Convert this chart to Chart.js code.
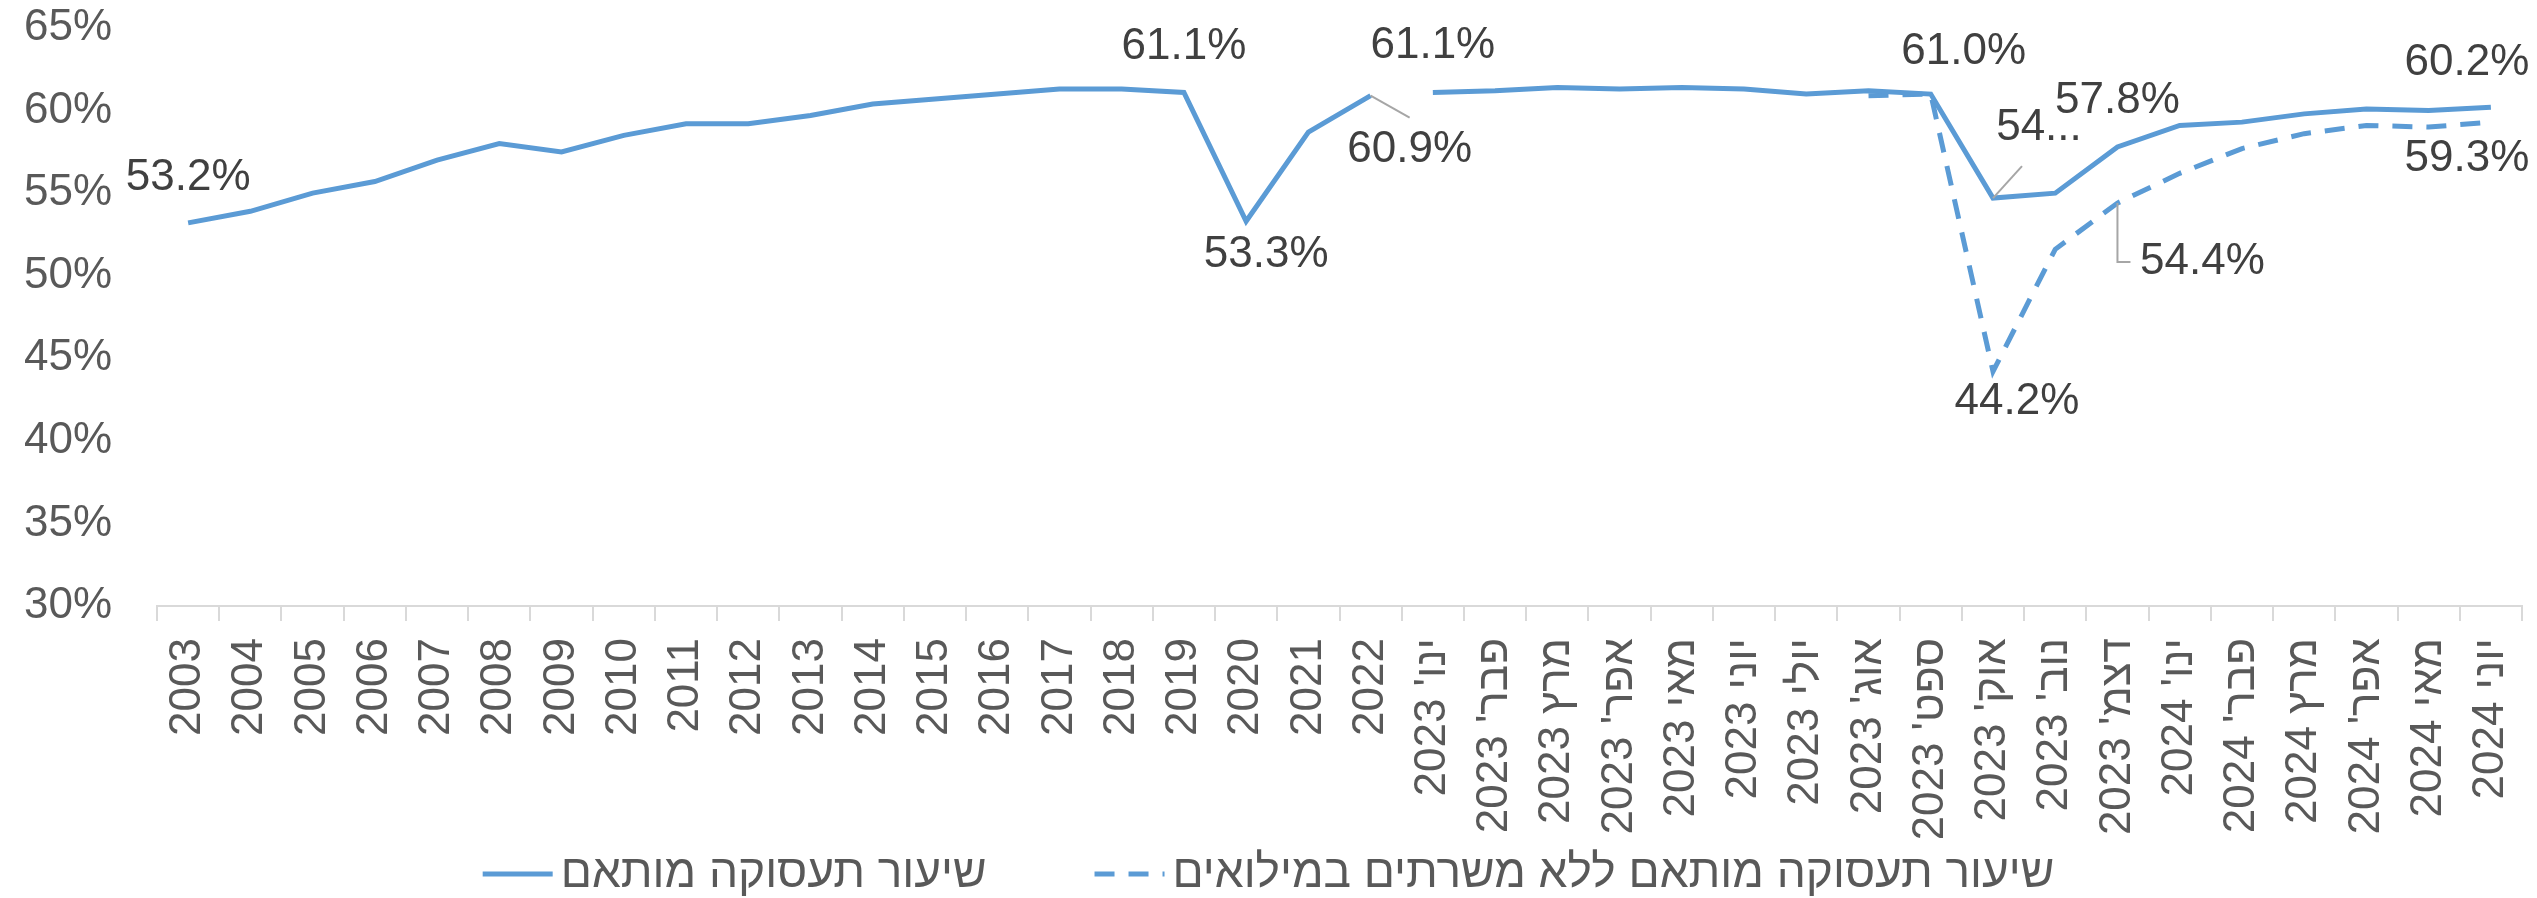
<!DOCTYPE html>
<html lang="he">
<head>
<meta charset="utf-8">
<title>שיעור תעסוקה מותאם</title>
<script src="https://cdn.jsdelivr.net/npm/chart.js@4.4.1/dist/chart.umd.min.js"></script>
<style>
  html, body { margin: 0; padding: 0; background: #fff; }
  #wrap { width: 2537px; height: 898px; position: relative; }
</style>
</head>
<body>
<div id="wrap"><canvas id="chart"></canvas></div>
<script>
// categories: yearly points, then monthly points
const years = ["2003", "2004", "2005", "2006", "2007", "2008", "2009", "2010", "2011", "2012",
  "2013", "2014", "2015", "2016", "2017", "2018", "2019", "2020", "2021", "2022"]
const months = ["ינו' 2023", "פבר' 2023", "מרץ 2023", "אפר' 2023", "מאי 2023", "יוני 2023",
  "יולי 2023", "אוג' 2023", "ספט' 2023", "אוק' 2023", "נוב' 2023", "דצמ' 2023",
  "ינו' 2024", "פבר' 2024", "מרץ 2024", "אפר' 2024", "מאי 2024", "יוני 2024"]

// adjusted employment rate, %
const annualRate = [53.2, 53.9, 55.0, 55.7, 57.0, 58.0, 57.5, 58.5, 59.2, 59.2,
  59.7, 60.4, 60.7, 61.0, 61.3, 61.3, 61.1, 53.3, 58.7, 60.9]
const monthlyRate = [61.1, 61.2, 61.4, 61.3, 61.4, 61.3, 61.0, 61.2, 61.0, 54.7, 55.0, 57.8,
  59.1, 59.3, 59.8, 60.1, 60.0, 60.2]
// without reservists, from Aug 2023
const noReservistsRate = [60.9, 61.0, 44.2, 51.6, 54.4, 56.2, 57.7, 58.6, 59.1, 59.0, 59.3]
const noReservistsStart = "אוג' 2023"

const yMin = 30
const yMax = 65
const yStep = 5

const seriesNames = ["שיעור תעסוקה מותאם", "שיעור תעסוקה מותאם ללא משרתים במילואים"]

const FONT = "'Liberation Sans', 'DejaVu Sans', sans-serif"
const BLUE = "#5b9bd5"

Chart.defaults.font.family = FONT
Chart.defaults.font.size = 44

const categories = years.concat(months)
const pad = (n) => Array(n).fill(null)
const startIdx = categories.indexOf(noReservistsStart)

// where each data label sits, relative to its point (dataset, category, offsets)
const labelSpots = [
  { ds: 0, cat: "2003", dx: 0, dy: -45 },
  { ds: 0, cat: "2019", dx: 0, dy: -46 },
  { ds: 0, cat: "2020", dx: 20, dy: 34 },
  { ds: 0, cat: "2022", dx: 39, dy: 54, leader: [[0, -32]] },
  { ds: 1, cat: "ינו' 2023", dx: 0, dy: -47 },
  { ds: 1, cat: "ספט' 2023", dx: 33, dy: -42 },
  { ds: 1, cat: "אוק' 2023", dx: 46, dy: -70, cut: true, leader: [[-17, 38]] },
  { ds: 1, cat: "דצמ' 2023", dx: 0, dy: -46 },
  { ds: 1, cat: "יוני 2024", dx: -24, dy: -44 },
  { ds: 2, cat: "אוק' 2023", dx: 24, dy: 30 },
  { ds: 2, cat: "דצמ' 2023", dx: 85, dy: 59, leader: [[-85, 0], [-72, 0]] },
  { ds: 2, cat: "יוני 2024", dx: -24, dy: 37 },
]

const dataLabels = {
  id: "dataLabels",
  afterDatasetsDraw(chart) {
    const ctx = chart.ctx
    ctx.save()
    ctx.font = "44px " + FONT
    ctx.textAlign = "center"
    ctx.textBaseline = "middle"
    labelSpots.forEach((s) => {
      const i = categories.indexOf(s.cat)
      const el = chart.getDatasetMeta(s.ds).data[i]
      const v = chart.data.datasets[s.ds].data[i]
      if (!el || v == null) return
      const lx = el.x + s.dx
      const ly = el.y + s.dy
      if (s.leader) {
        ctx.beginPath()
        ctx.strokeStyle = "#a6a6a6"
        ctx.lineWidth = 2
        ctx.moveTo(el.x, el.y)
        s.leader.forEach(([px, py]) => ctx.lineTo(lx + px, ly + py))
        ctx.stroke()
      }
      const text = s.cut ? Math.floor(v) + "..." : v.toFixed(1) + "%"
      ctx.fillStyle = "#404040"
      ctx.fillText(text, lx, ly)
    })
    ctx.restore()
  },
}

// legend drawn by hand so the gaps match the original
const bottomLegend = {
  id: "bottomLegend",
  afterDraw(chart) {
    const ctx = chart.ctx
    const items = [chart.data.datasets[1], chart.data.datasets[2]]
    const sample = 70
    const gap = 8
    const between = 108
    ctx.save()
    ctx.font = "46px " + FONT
    const widths = items.map((d) => ctx.measureText(d.label).width)
    const total = widths.reduce((a, w) => a + sample + gap + w, 0) + between * (items.length - 1)
    let x = (chart.width - total) / 2
    const y = 874
    items.forEach((d, k) => {
      ctx.beginPath()
      ctx.strokeStyle = d.borderColor
      ctx.lineWidth = d.borderWidth
      ctx.setLineDash(d.borderDash || [])
      ctx.moveTo(x, y)
      ctx.lineTo(x + sample, y)
      ctx.stroke()
      ctx.setLineDash([])
      ctx.fillStyle = "#595959"
      ctx.textAlign = "left"
      ctx.textBaseline = "middle"
      ctx.fillText(d.label, x + sample + gap, y)
      x += sample + gap + widths[k] + between
    })
    ctx.restore()
  },
}

const ctx = document.getElementById("chart").getContext("2d")
const chart = new Chart(ctx, {
  type: "line",
  data: {
    labels: categories,
    datasets: [
      {
        label: "annual",
        data: annualRate.concat(pad(months.length)),
        borderColor: BLUE,
        borderWidth: 5,
        pointRadius: 0,
        tension: 0,
        fill: false,
      },
      {
        label: seriesNames[0],
        data: pad(years.length).concat(monthlyRate),
        borderColor: BLUE,
        borderWidth: 5,
        pointRadius: 0,
        tension: 0,
        fill: false,
      },
      {
        label: seriesNames[1],
        data: pad(startIdx).concat(noReservistsRate),
        borderColor: BLUE,
        borderWidth: 5,
        borderDash: [20, 14],
        pointRadius: 0,
        tension: 0,
        fill: false,
      },
    ],
  },
  options: {
    responsive: true,
    maintainAspectRatio: false,
    animation: false,
    devicePixelRatio: 1,
    layout: { padding: { top: 28, right: 15, bottom: 60, left: 0 } },
    scales: {
      x: {
        offset: true,
        grid: {
          offset: true,
          drawOnChartArea: false,
          drawTicks: true,
          tickLength: 15,
          color: "#d9d9d9",
          lineWidth: 2,
        },
        border: { display: true, color: "#d9d9d9", width: 2 },
        ticks: {
          autoSkip: false,
          maxRotation: 90,
          minRotation: 90,
          padding: 17,
          color: "#595959",
          font: { size: 44, lineHeight: 0.6 },
        },
        afterFit: (s) => { s.height = 232 },
      },
      y: {
        min: yMin,
        max: yMax,
        grid: {
          display: true,
          drawOnChartArea: false,
          drawTicks: true,
          tickLength: 45,
          tickColor: "rgba(0,0,0,0)",
        },
        border: { display: false },
        ticks: {
          stepSize: yStep,
          padding: 0,
          color: "#595959",
          font: { size: 44 },
          callback: (v) => v + "%",
        },
        afterFit: (s) => { s.width = 157 },
      },
    },
    plugins: {
      legend: { display: false },
      tooltip: { enabled: false },
    },
  },
  plugins: [dataLabels, bottomLegend],
})
</script>
</body>
</html>
